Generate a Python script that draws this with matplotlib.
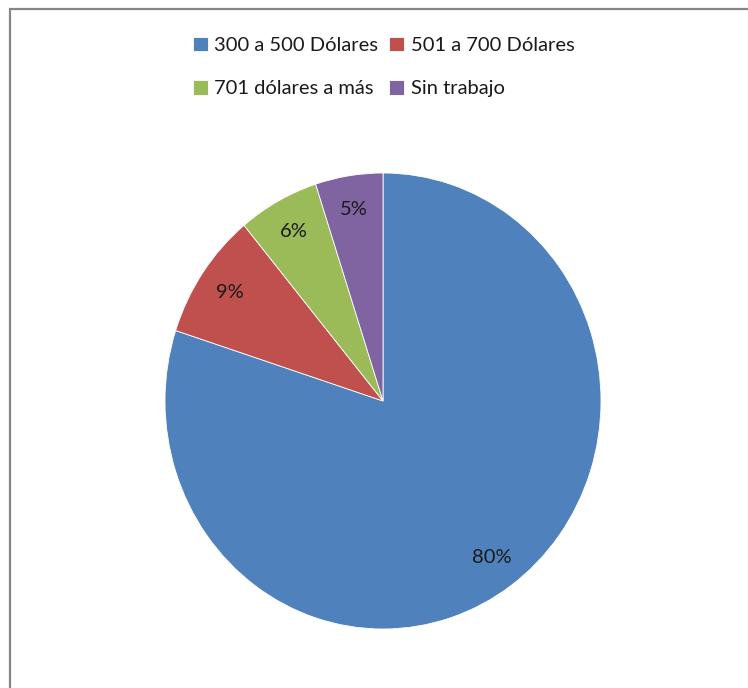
import matplotlib
matplotlib.use("Agg")
import matplotlib.pyplot as plt
from matplotlib.patches import Rectangle

# datos
categorias = ["300 a 500 Dólares", "501 a 700 Dólares", "701 dólares a más", "Sin trabajo"]
porcentajes = [80, 9, 6, 5]
colores = ["#4F81BD", "#C0504D", "#9BBB59", "#8064A2"]

plt.rcParams["font.family"] = ["Lato", "DejaVu Sans"]

W, H = 748, 688
fig = plt.figure(figsize=(W / 100, H / 100), dpi=100)

# marco gris del area del grafico (cortado a la derecha y abajo)
fig.patches.append(Rectangle((9.5 / W, -0.1), 1.2, 1 - 8.5 / H + 0.1,
                             transform=fig.transFigure, fill=False,
                             edgecolor="#868686", linewidth=1.6))

# el circulo del original sale un poco estirado en vertical
cx, cy, rx, ry = 383, 401, 218, 228
ax = fig.add_axes([(cx - rx) / W, (H - cy - ry) / H, 2 * rx / W, 2 * ry / H])
wedges, textos, autotextos = ax.pie(
    porcentajes, colors=colores, startangle=90, counterclock=False,
    autopct=lambda p: "%d%%" % round(p), pctdistance=0.85,
    wedgeprops=dict(edgecolor="white", linewidth=0.6),
    textprops=dict(fontsize=14.5, color="#1a1a1a"))
ax.set_aspect("auto")
ax.set_xlim(-1, 1)
ax.set_ylim(-1, 1)

# orden por filas como en la leyenda de Excel
orden = [0, 2, 1, 3]
fig.legend([wedges[i] for i in orden], [categorias[i] for i in orden],
           loc="center", ncol=2,
           bbox_to_anchor=(0.513, 1 - 67 / H), frameon=False,
           fontsize=14.5, handlelength=0.75, handleheight=0.75,
           handletextpad=0.3, columnspacing=0.55, labelspacing=1.3,
           borderpad=0, labelcolor="#1a1a1a")

fig.savefig("out.png", dpi=100, facecolor="white")
